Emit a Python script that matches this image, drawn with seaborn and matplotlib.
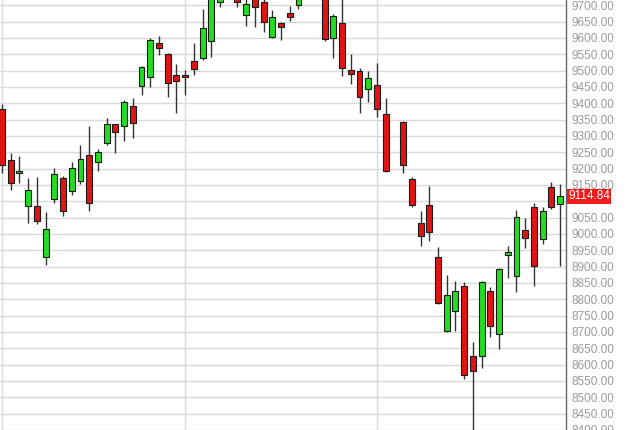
import numpy as np
import pandas as pd
import matplotlib
matplotlib.use('Agg')
import matplotlib.pyplot as plt
import matplotlib.transforms as mtransforms
import seaborn as sns

# daily OHLC (nan = no session, values > 9716 run off the top)
opens = [9383, 9225, 9188, 9085, 9085, 8929, 9106, 9170, 9130, 9161,
         9243, 9219, 9277, 9335, 9329, 9393, 9454, 9481, 9585, 9551,
         9487, 9487, 9530, 9539, 9591, 9711, 9735, 9740, 9670, 9725,
         9710, 9603, 9646, 9676, 9701, 9745, 9780, 9760, 9600, 9646,
         9502, 9499, 9444, 9457, 9368, np.nan, 9344, 9167, 9033, 9088,
         8929, 8703, 8764, 8841, 8627, 8627, 8825, 8694, 8935, 8871,
         9011, 9081, 8984, 9143, 9091]
highs = [9399, 9249, 9240, 9170, 9173, 9066, 9203, 9176, 9219, 9271,
         9329, 9261, 9356, 9337, 9411, 9417, 9515, 9600, 9606, 9554,
         9521, 9502, 9585, 9688, 9760, 9770, 9790, 9760, 9725, 9740,
         9725, 9685, 9649, 9698, 9750, 9790, 9800, 9780, 9673, 9725,
         9551, 9508, 9499, 9524, 9417, np.nan, 9347, 9173, 9069, 9146,
         8959, 8874, 8856, 8853, 8670, 8856, 8837, 8895, 8963, 9072,
         9048, 9094, 9082, 9158, 9152]
lows = [9188, 9133, 9155, 9033, 9030, 8905, 9094, 9054, 9118, 9152,
        9069, 9194, 9271, 9249, 9283, 9295, 9426, 9451, 9548, 9420,
        9371, 9426, 9487, 9533, 9542, 9695, 9722, 9695, 9637, 9634,
        9618, 9600, 9594, 9652, 9688, 9730, 9740, 9591, 9539, 9484,
        9460, 9371, 9405, 9359, 9191, np.nan, 9188, 9081, 8963, 8978,
        8786, 8700, 8703, 8557, 8380, 8590, 8685, 8648, 8865, 8822,
        8957, 8841, 8969, 9075, 8902]
closes = [9210, 9155, 9194, 9133, 9039, 9014, 9185, 9069, 9203, 9228,
          9094, 9252, 9338, 9313, 9405, 9341, 9512, 9594, 9570, 9463,
          9469, 9481, 9505, 9630, 9740, 9745, 9760, 9710, 9704, 9695,
          9649, 9664, 9634, 9664, 9735, 9775, 9760, 9597, 9667, 9508,
          9490, 9420, 9478, 9383, 9194, np.nan, 9210, 9088, 8993, 9005,
          8789, 8813, 8825, 8569, 8581, 8853, 8719, 8892, 8944, 9051,
          8987, 8902, 9069, 9082, 9114.84]
month_starts = [0, 21, 43]
last_price = 9114.84
price_ticks = np.arange(8400, 9701, 50)

df = pd.DataFrame({'open': opens, 'high': highs, 'low': lows, 'close': closes})
df['day'] = np.arange(len(df))
df['up'] = df['close'] >= df['open']

sns.set_style('white')
plt.rcParams['font.family'] = ['Liberation Sans', 'DejaVu Sans']

fig = plt.figure(figsize=(6.27, 4.30), dpi=100)
ax = fig.add_axes([0, 0, 566 / 627, 1])

green = '#22dd22'
red = '#e11414'

d = df.dropna()
# wicks
ax.vlines(d['day'], d['low'], d['high'], color='#333333', lw=1.0, zorder=2)
# bodies
bottoms = d[['open', 'close']].min(axis=1)
heights = (d['close'] - d['open']).abs().clip(lower=4)
ax.bar(d['day'], heights, bottom=bottoms, width=0.68,
       color=np.where(d['up'], green, red), edgecolor='#1a1a1a', linewidth=0.8, zorder=3)

# grid
for v in np.arange(8400, 9751, 50):
    ax.axhline(v, color='#dadada', lw=1.0, zorder=0)
for m in month_starts:
    ax.axvline(m, color='#dadada', lw=1.0, zorder=0)

ax.set_xlim(-0.23, 64.68)
ax.set_ylim(8401, 9716)
ax.set_xticks([])
ax.yaxis.tick_right()
ax.set_yticks(price_ticks)
# the 9100 label sits under the last-price box
ax.set_yticklabels(['' if v == 9100 else f'{v:.2f}' for v in price_ticks])
ax.tick_params(axis='y', length=0, pad=4, labelsize=8.5, labelcolor='#9a9a9a')
for s in ['top', 'left', 'bottom']:
    ax.spines[s].set_visible(False)
ax.spines['right'].set_color('#666666')
ax.spines['right'].set_linewidth(1.0)

trans = mtransforms.blended_transform_factory(ax.transAxes, ax.transData)
ax.text(1.004, last_price, f'{last_price:.2f}', transform=trans, ha='left', va='center',
        color='white', fontsize=8.5, zorder=5, clip_on=False,
        bbox=dict(boxstyle='square,pad=0.1', facecolor='#ee1c1c', edgecolor='none'))

fig.savefig('out.png', dpi=100)
